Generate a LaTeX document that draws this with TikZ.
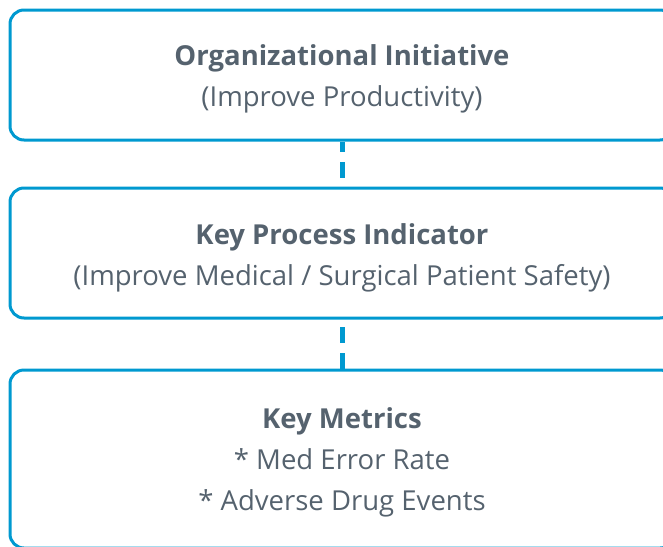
\documentclass[tikz,border=0pt]{standalone}
\usepackage{fontspec}
\setmainfont{Open Sans}
\usepackage{xcolor}
\usetikzlibrary{positioning}
\definecolor{brd}{RGB}{0,153,208}
\definecolor{txt}{RGB}{85,98,110}
\tikzset{
  panel/.style={rectangle,rounded corners=14pt,draw=brd,line width=3pt,
    minimum width=664pt},
  caption/.style={align=center,text=txt,font=\fontsize{27.5}{41}\selectfont},
  link/.style={draw=brd,line width=5pt,dash pattern=on 16pt off 10pt},
}

\begin{document}
\begin{tikzpicture}[x=1pt,y=-1pt]
\useasboundingbox (0,0) rectangle (663,546);
% three stacked levels
\node[panel,minimum height=130pt] (init) at (342,75) {};
\node[panel,minimum height=130pt] (kpi) at (342,253) {};
\node[panel,minimum height=178pt] (metrics) at (342,459) {};

\node[caption] (initT) at ([yshift=-4pt]init.center)
  {\textbf{Organizational Initiative}\\(Improve Productivity)};
\node[caption] (kpiT) at ([yshift=-4.5pt]kpi.center)
  {\textbf{Key Process Indicator}\\(Improve Medical / Surgical Patient Safety)};
\node[caption] (metricsT) at ([yshift=-3pt]metrics.center)
  {\textbf{Key Metrics}\\* Med Error Rate\\* Adverse Drug Events};

% dashed ties between levels
\draw[link,dash phase=17pt] (kpi.north) -- (init.south);
\draw[link] (metrics.north) -- (kpi.south);
\end{tikzpicture}
\end{document}
